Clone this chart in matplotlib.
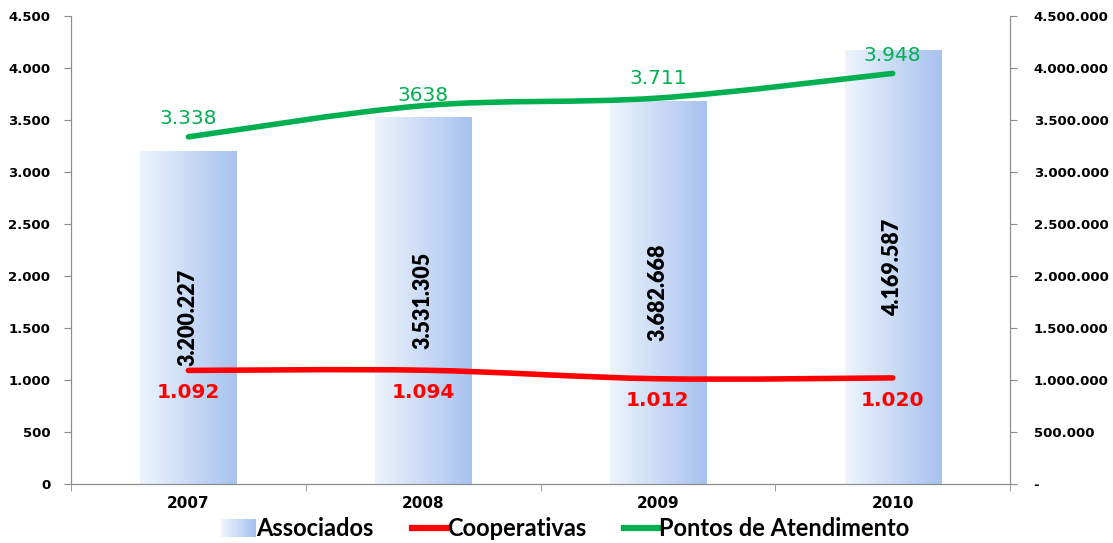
import numpy as np
import matplotlib.pyplot as plt
from matplotlib.path import Path
from matplotlib.patches import PathPatch, Patch, Rectangle
from matplotlib.lines import Line2D
from matplotlib.ticker import FuncFormatter
from matplotlib.colors import LinearSegmentedColormap
from matplotlib.legend_handler import HandlerBase

anos = ['2007', '2008', '2009', '2010']
associados = [3200227, 3531305, 3682668, 4169587]
associados_txt = ['3.200.227', '3.531.305', '3.682.668', '4.169.587']
cooperativas = [1092, 1094, 1012, 1020]
cooperativas_txt = ['1.092', '1.094', '1.012', '1.020']
pontos = [3338, 3638, 3711, 3948]
pontos_txt = ['3.338', '3638', '3.711', '3.948']

# deslocamento vertical dos rótulos (pontos tipográficos)
desloc_pontos = [13, 7, 14, 13]
desloc_coop = [-16, -16, -16, -16]

VERDE = '#00B050'
VERMELHO = '#FF0000'
CINZA = '#8C8C8C'
cmap = LinearSegmentedColormap.from_list('azul', ['#EEF4FD', '#A7C2EF'])


def fmt_milhar(v, pos=None):
    if v == 0:
        return '0'
    return f'{int(v):,}'.replace(',', '.')


def fmt_direita(v, pos=None):
    if v == 0:
        return '-'
    return f'{int(v):,}'.replace(',', '.')


def curva_suave(xs, ys, t=1/6):
    # linha suavizada estilo Excel (Catmull-Rom -> Bezier)
    pts = list(zip(xs, ys))
    verts = [pts[0]]
    codes = [Path.MOVETO]
    n = len(pts)
    for i in range(n - 1):
        p0 = pts[i - 1] if i > 0 else pts[i]
        p1 = pts[i]
        p2 = pts[i + 1]
        p3 = pts[i + 2] if i + 2 < n else pts[i + 1]
        c1 = (p1[0] + (p2[0] - p0[0]) * t, p1[1] + (p2[1] - p0[1]) * t)
        c2 = (p2[0] - (p3[0] - p1[0]) * t, p2[1] - (p3[1] - p1[1]) * t)
        verts += [c1, c2, p2]
        codes += [Path.CURVE4] * 3
    return Path(verts, codes)


class HandlerGradiente(HandlerBase):
    def create_artists(self, legend, orig_handle, xdescent, ydescent,
                       width, height, fontsize, trans):
        n = 30
        arts = []
        for i in range(n):
            r = Rectangle((-xdescent + width * i / n, -ydescent - 1),
                          width / n + 0.3, height + 2,
                          facecolor=cmap(i / (n - 1)), edgecolor='none',
                          transform=trans)
            arts.append(r)
        return arts


fig = plt.figure(figsize=(11.13, 5.43), dpi=100)
ax = fig.add_axes([0.0638, 0.1087, 0.8437, 0.8618])
ax2 = ax.twinx()
x = np.arange(len(anos))

# barras (eixo da direita) com degradê
largura = 0.41
gradiente = np.linspace(0, 1, 256).reshape(1, -1)
barras = ax.bar(x, associados, width=largura, color='none', edgecolor='none')
for b in barras:
    x0, y0 = b.get_x(), b.get_y()
    im = ax.imshow(gradiente, cmap=cmap, aspect='auto',
                   extent=[x0, x0 + b.get_width(), y0, y0 + b.get_height()],
                   zorder=1)
    im.set_clip_path(b)
ax.set_aspect('auto')
ax.set_xlim(-0.5, 3.5)
ax.set_ylim(0, 4500000)

for xi, v, t in zip(x, associados, associados_txt):
    ax.text(xi, v / 2, t, rotation=90, ha='center', va='center',
            fontsize=15.5, fontweight='heavy', family='Lato', color='black',
            zorder=3)

ax.yaxis.tick_right()
ax.set_yticks(np.arange(0, 4500001, 500000))
ax.yaxis.set_major_formatter(FuncFormatter(fmt_direita))

# linhas (eixo da esquerda)
ax2.yaxis.tick_left()
ax2.set_ylim(0, 4500)
ax2.set_yticks(np.arange(0, 4501, 500))
ax2.yaxis.set_major_formatter(FuncFormatter(fmt_milhar))

ax2.add_patch(PathPatch(curva_suave(x, cooperativas), fill=False,
                        edgecolor=VERMELHO, lw=4, capstyle='round'))
ax2.add_patch(PathPatch(curva_suave(x, pontos), fill=False,
                        edgecolor=VERDE, lw=4, capstyle='round'))

for xi, v, t, d in zip(x, pontos, pontos_txt, desloc_pontos):
    ax2.annotate(t, (xi, v), xytext=(0, d), textcoords='offset points',
                 ha='center', va='center', fontsize=14.5, color=VERDE)
for xi, v, t, d in zip(x, cooperativas, cooperativas_txt, desloc_coop):
    ax2.annotate(t, (xi, v), xytext=(0, d), textcoords='offset points',
                 ha='center', va='center', fontsize=14.5, color=VERMELHO,
                 fontweight='semibold')

# eixos
for a in (ax, ax2):
    a.spines['top'].set_visible(False)
    for s in ('left', 'right', 'bottom'):
        a.spines[s].set_color(CINZA)
    a.tick_params(axis='y', colors=CINZA, length=5, labelcolor='black',
                  labelsize=9.5)
    for lbl in a.get_yticklabels():
        lbl.set_fontweight('bold')

ax.tick_params(axis='y', pad=12)
ax2.tick_params(axis='y', pad=10)

ax.set_xticks(x)
ax.set_xticklabels(anos, fontsize=11, fontweight='bold')
ax.set_xticks(np.arange(-0.5, 3.6, 1), minor=True)
ax.tick_params(axis='x', which='major', length=0, pad=9)
ax.tick_params(axis='x', which='minor', length=5, color=CINZA)

handles = [Patch(facecolor='#C8D9F6', edgecolor='none'),
           Line2D([], [], color=VERMELHO, lw=4.5),
           Line2D([], [], color=VERDE, lw=4.5)]
fig.legend(handles, ['Associados', 'Cooperativas', 'Pontos de Atendimento'],
           loc='center', bbox_to_anchor=(0.508, 0.026), ncol=3, frameon=False,
           prop={'family': 'Lato', 'weight': 'bold', 'size': 17},
           handlelength=1.45, handleheight=0.6, handletextpad=0.05,
           columnspacing=1.6, borderpad=0.1,
           handler_map={Patch: HandlerGradiente()})

fig.savefig('out.png', dpi=100)
